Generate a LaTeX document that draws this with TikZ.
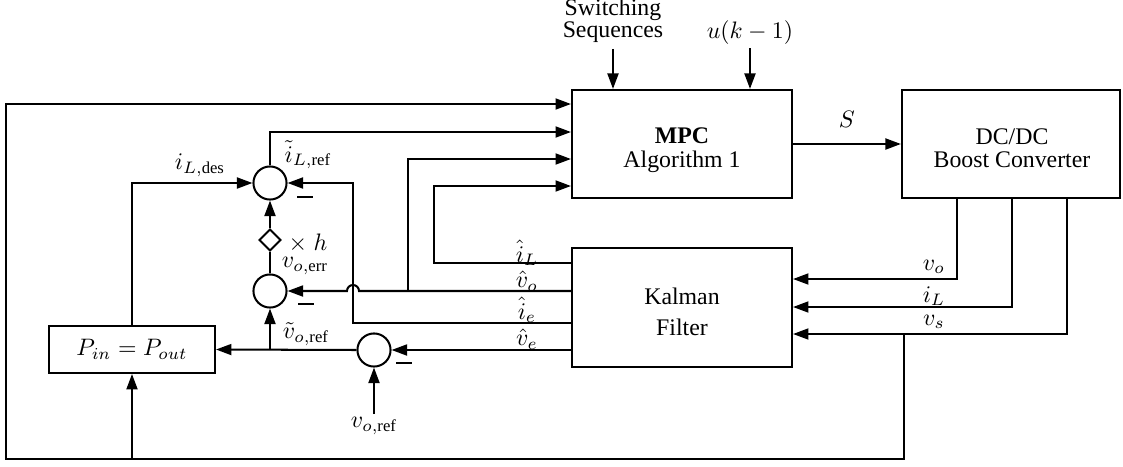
\documentclass[tikz,border=0pt]{standalone}
\usepackage{amsmath}
\usepackage{fontspec}
\setmainfont{Liberation Serif}
\usetikzlibrary{arrows.meta,shapes.geometric}
\begin{document}
\begin{tikzpicture}[x=0.42pt,y=-0.42pt,
  line width=0.85pt,
  arr/.style={-{Triangle[length=6.5pt,width=4.6pt]}},
  blk/.style={draw,rectangle,inner sep=0pt},
  sumc/.style={draw,circle,minimum size=13.9pt,inner sep=0pt},
  lbl/.style={inner sep=1pt},
  sl/.style={inner sep=0pt},
  minus/.style={inner sep=0pt}
]
\useasboundingbox (0,0) rectangle (1123,466);

% blocks
\node[blk,minimum width=92.4pt,minimum height=45.4pt] (mpc) at (682,144) {};
\node[align=center] (mpct) at (682,150) {\textbf{MPC}\\[-1.8pt]Algorithm 1};
\node[blk,minimum width=91.6pt,minimum height=45.4pt] (dc) at (1011,144) {};
\node[align=center] (dct) at (1012,148) {DC/DC\\[-2.4pt]Boost Converter};
\node[blk,minimum width=92.4pt,minimum height=50pt] (kal) at (682,307.5) {};
\node[align=center] (kalt) at (682,312) {Kalman\\[0.8pt]Filter};
\node[blk,minimum width=69.7pt,minimum height=19.7pt] (pb) at (132,349.5) {$P_{in} = P_{out}$};

% summing junctions and gain
\node[sumc] (c1) at (270,183) {};
\node[sumc] (c2) at (270,291) {};
\node[sumc] (c3) at (374,350) {};
\node[draw,diamond,minimum width=9.2pt,minimum height=9.2pt,inner sep=0pt] (dm) at (270,240) {};

% top inputs
\node[lbl,align=center] (sw) at (613,21) {Switching\\[-2.6pt]Sequences};
\node[lbl] (uk) at (750,33) {$u(k-1)$};
\draw[arr] ([yshift=-1pt]sw.south) -- (sw.south |- mpc.north);
\draw[arr] (uk.south) -- (uk.south |- mpc.north);

% S
\draw[arr] (mpc.east) -- node[above=3pt] {$S$} (dc.west);

% converter to Kalman
\draw[arr] (dc.south -| 957,0) |- (kal.east |- 0,279);
\draw[arr] (dc.south -| 1012,0) |- (kal.east |- 0,307);
\draw[arr] (dc.south -| 1067,0) |- (kal.east |- 0,334);
\node[sl] (lvo) at (934,267) {$v_o$};
\node[sl] (liL) at (934,296) {$i_L$};
\node[sl] (lvs) at (934,322) {$v_s$};

% outer loop
\coordinate (j1) at (904,334);
\coordinate (bl) at (6,459);
\draw[arr] (j1) |- (bl) |- (mpc.west |- 0,104);
\draw[arr] (pb.south |- bl) -- (pb.south);

% Kalman outputs
\draw[arr] (kal.west |- 0,263) -| (434,186) -- (mpc.west |- 0,186);
\draw[arr] (kal.west |- 0,291) -- (359,291) arc[start angle=0,end angle=180,radius=2.52pt] -- (c2.east);
\coordinate (j2) at (408,291);
\draw[arr] (j2) |- (mpc.west |- 0,159);
\draw[arr] (kal.west |- 0,323) -| (353,183) -- (c1.east);
\draw[arr] (kal.west |- 0,350) -- (c3.east);
\node[sl] (lhiL) at (527,253) {$\hat{i}_L$};
\node[sl] (lhvo) at (527,281) {$\hat{v}_o$};
\node[sl] (lhie) at (527,310) {$\hat{i}_e$};
\node[sl] (lhve) at (527,339) {$\hat{v}_e$};

% inner loops
\draw[arr] (c1.north) |- (mpc.west |- 0,132);
\draw[arr] (pb.north) |- (c1.west);
\draw (c2.north) -- (dm.south);
\draw[arr] (dm.north) -- (c1.south);
\draw[arr] (c3.west) -- (pb.east);
\coordinate (j3) at (270,350);
\draw[arr] (j3) -- (c2.south);
\node[lbl] (vref) at (374,426) {$v_{o,\text{ref}}$};
\draw[arr] (vref.north) -- (c3.south);

% labels
\node[sl] (liLd) at (200,165) {$i_{L,\text{des}}$};
\node[sl] (liLr) at (308,155) {$\tilde{i}_{L,\text{ref}}$};
\node[sl] (lxh) at (308,243) {$\times\;h$};
\node[sl] (lverr) at (305,266) {$v_{o,\text{err}}$};
\node[sl] (lvref) at (306,334) {$\tilde{v}_{o,\text{ref}}$};

% minus signs
\node[minus] (m1) at (305,197) {\rule{6.7pt}{1.2pt}};
\node[minus] (m2) at (306,304) {\rule{6.7pt}{1.2pt}};
\node[minus] (m3) at (404,363) {\rule{6.7pt}{1.2pt}};
\end{tikzpicture}
\end{document}
